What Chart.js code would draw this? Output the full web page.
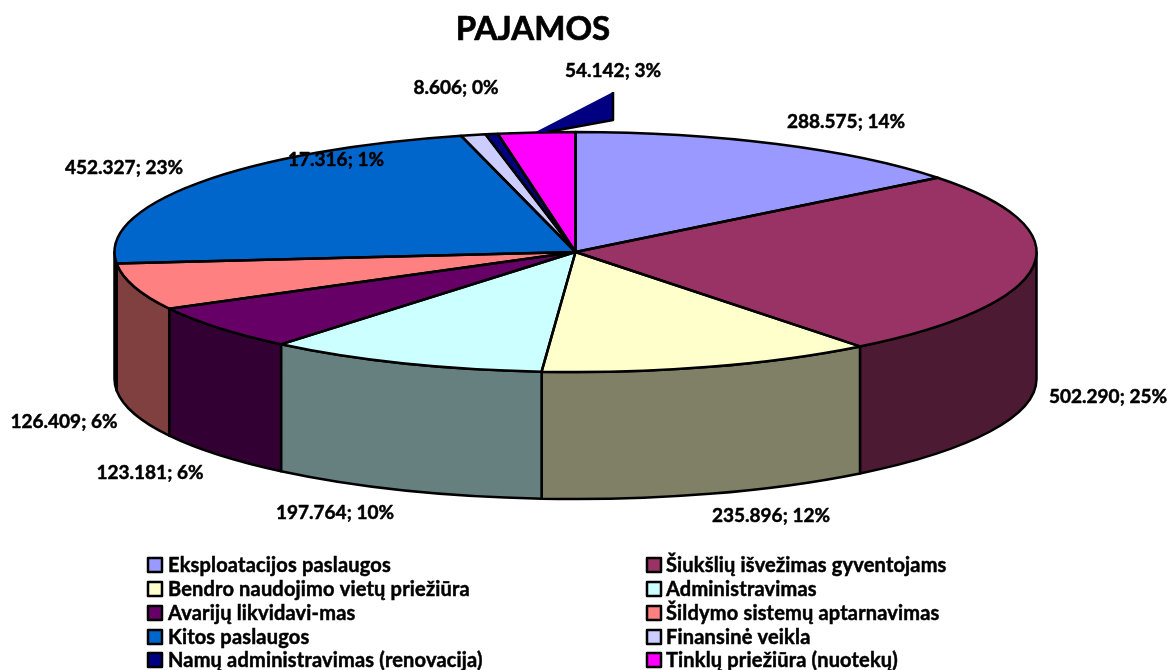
<!DOCTYPE html>
<html><head><meta charset="utf-8">
<style>html,body{margin:0;padding:0;background:#fff}#w{position:relative;width:1172px;height:670px}</style>
<script src="https://cdn.jsdelivr.net/npm/chart.js@4/dist/chart.umd.min.js"></script>
</head><body><div id="w"><canvas id="c" width="1172" height="670"></canvas></div>
<script>
const chartTitle = "PAJAMOS";
const categories = ["Eksploatacijos paslaugos","Šiukšlių išvežimas gyventojams","Bendro naudojimo vietų priežiūra","Administravimas","Avarijų likvidavi-mas","Šildymo sistemų aptarnavimas","Kitos paslaugos","Finansinė veikla","Namų administravimas (renovacija)","Tinklų priežiūra (nuotekų)"];
const values = [288575,502290,235896,197764,123181,126409,452327,17316,8606,54142];
const topColors = ["#9999FF","#993366","#FFFFCC","#CCFFFF","#660066","#FF8080","#0066CC","#CCCCFF","#000080","#FF00FF"];
const sideColors = ["#4D4D80","#4D1A33","#808066","#668080","#330033","#804040","#003366","#666680","#000040","#800080"];

// layout (not data)
const pie = {cx:575.5, cy:252, rx:461, ry:120, depth:127};
const labelCentres = [[846,122],[1108,397],[771,516],[335,513],[150,473],[64,422],[124,168],[336,160],[456,88],[613,71]];
const legendGeom = {boxX:[148,647], textX:[168,666], rowY:[565,589,613,637,660], box:14};
const FONT = '"Lato","Liberation Sans",sans-serif';

const total = values.reduce((a,b)=>a+b,0);
const fmt = v => { const s=String(v); return s.slice(0,-3)+"."+s.slice(-3); };
function heavy(ctx,t,x,y,w){ ctx.lineWidth=w; ctx.strokeStyle="#000"; ctx.strokeText(t,x,y); ctx.fillText(t,x,y); }

const pie3d = {
  id:"pie3d",
  beforeDatasetsDraw(chart){
    const ctx=chart.ctx, arcs=chart.getDatasetMeta(0).data, a0=arcs[0];
    const r=a0.outerRadius;
    ctx.save();
    ctx.lineWidth=2.5; ctx.strokeStyle="#000"; ctx.lineJoin="round";
    arcs.forEach((arc,i)=>{
      const a=Math.max(norm(arc.startAngle),0), b=Math.min(norm(arc.startAngle)+(arc.endAngle-arc.startAngle),Math.PI);
      if(b<=a) return;
      ctx.beginPath();
      ctx.ellipse(pie.cx,pie.cy,pie.rx,pie.ry,0,a,b,false);
      ctx.ellipse(pie.cx,pie.cy+pie.depth,pie.rx,pie.ry,0,b,a,true);
      ctx.closePath();
      ctx.fillStyle=sideColors[i]; ctx.fill(); ctx.stroke();
    });
    ctx.restore();
    ctx.save();
    ctx.translate(pie.cx,pie.cy);
    ctx.scale(pie.rx/r,pie.ry/r);
    ctx.translate(-a0.x,-a0.y);
  },
  afterDatasetsDraw(chart){
    const ctx=chart.ctx, arcs=chart.getDatasetMeta(0).data;
    ctx.restore();
    ctx.save();
    ctx.lineWidth=2.5; ctx.strokeStyle="#000"; ctx.lineJoin="round";
    arcs.forEach(arc=>{
      ctx.beginPath();
      ctx.moveTo(pie.cx,pie.cy);
      ctx.ellipse(pie.cx,pie.cy,pie.rx,pie.ry,0,arc.startAngle,arc.endAngle,false);
      ctx.closePath();
      ctx.stroke();
    });
    ctx.beginPath();
    ctx.moveTo(pie.cx-40,pie.cy-120);
    ctx.lineTo(pie.cx+37.5,pie.cy-160);
    ctx.lineTo(pie.cx+37.5,pie.cy-132);
    ctx.lineTo(pie.cx-28,pie.cy-120);
    ctx.closePath();
    ctx.fillStyle=topColors[8]; ctx.fill();
    ctx.beginPath();
    ctx.moveTo(pie.cx+37.5,pie.cy-160);
    ctx.lineTo(pie.cx+37.5,pie.cy-132);
    ctx.lineTo(pie.cx-28,pie.cy-120);
    ctx.stroke();
    ctx.lineJoin="round";
    ctx.fillStyle="#000"; ctx.textAlign="center"; ctx.textBaseline="middle";
    ctx.font='bold 19px '+FONT;
    values.forEach((v,i)=>{
      const t=fmt(v)+"; "+Math.round(v/total*100)+"%";
      heavy(ctx,t,labelCentres[i][0],labelCentres[i][1],0.5);
    });
    ctx.font='bold 33px '+FONT;
    heavy(ctx,chartTitle,533,29,0.7);
    ctx.font='bold 20px '+FONT; ctx.textAlign="left";
    ctx.letterSpacing="0.18px";
    categories.forEach((c,i)=>{
      const col=i%2,row=(i-col)/2,y=legendGeom.rowY[row],x=legendGeom.boxX[col],s=legendGeom.box;
      ctx.fillStyle=topColors[i];
      ctx.fillRect(x,y-s/2,s,s);
      ctx.lineWidth=2.5; ctx.strokeRect(x,y-s/2,s,s);
      ctx.fillStyle="#000";
      heavy(ctx,c,legendGeom.textX[col],y+0.5,0.5);
    });
    ctx.restore();
  }
};
function norm(a){
  let x=a; while(x>Math.PI) x-=2*Math.PI; while(x<=-Math.PI) x+=2*Math.PI; return x;
}
new Chart(document.getElementById("c"),{
  type:"pie",
  data:{labels:categories,datasets:[{data:values,backgroundColor:topColors,borderWidth:0,clip:false}]},
  options:{responsive:false,animation:false,
    plugins:{legend:{display:false},title:{display:false},tooltip:{enabled:false}}},
  plugins:[pie3d]
});
</script></body></html>
